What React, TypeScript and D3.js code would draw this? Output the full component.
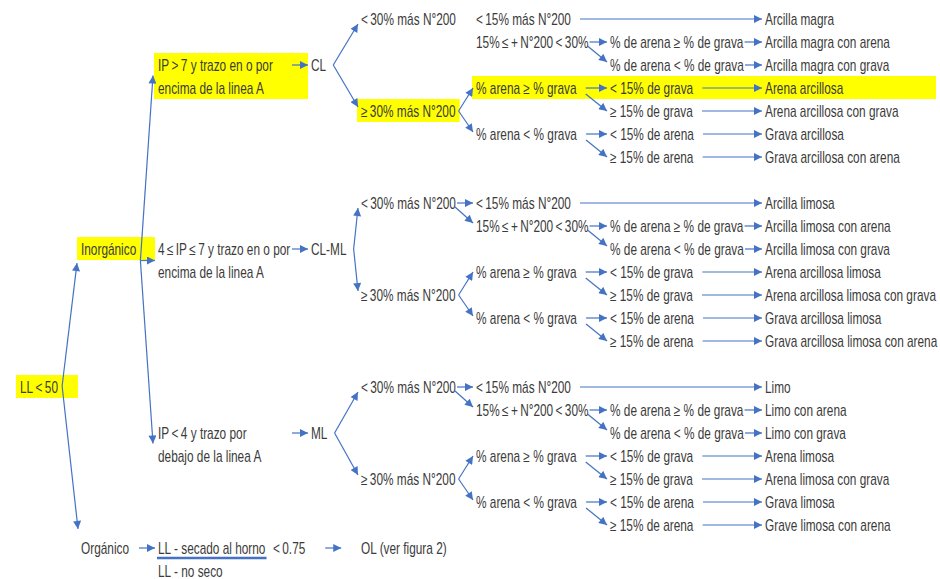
import React, { useEffect, useRef } from "react";
import * as d3 from "d3";

// soil classification flowchart (LL < 50)
// thin spaces (\u2009) around the math signs widen them like the original narrow face
const groupNames = ["CL", "CL-ML", "ML"];
const plasticity = [
  ["IP\u2009>\u20097 y trazo en o por", "encima de la linea A"],
  ["4\u2009≤\u2009IP\u2009≤\u20097 y trazo en o por", "encima de la linea A"],
  ["IP\u2009<\u20094 y trazo por", "debajo de la linea A"],
];
const fines = ["<\u200930% más N°200", "≥\u200930% más N°200"];
const finesSub = ["<\u200915% más N°200", "15%\u2009≤\u2009+\u2009N°200\u2009<\u200930%"];
const sandVsGravel = ["% de arena ≥ % de grava", "% de arena < % de grava"];
const coarse = ["% arena ≥ % grava", "% arena < % grava"];
const coarseSub = ["< 15% de grava", "≥ 15% de grava", "< 15% de arena", "≥ 15% de arena"];
const resultsCL = ["Arcilla magra", "Arcilla magra con arena", "Arcilla magra con grava", "Arena arcillosa", "Arena arcillosa con grava", "Grava arcillosa", "Grava arcillosa con arena"];
const resultsCLML = ["Arcilla limosa", "Arcilla limosa con arena", "Arcilla limosa con grava", "Arena arcillosa limosa", "Arena arcillosa limosa con grava", "Grava arcillosa limosa", "Grava arcillosa limosa con arena"];
const resultsML = ["Limo", "Limo con arena", "Limo con grava", "Arena limosa", "Arena limosa con grava", "Grava limosa", "Grave limosa con arena"];
const groupResults = [resultsCL, resultsCLML, resultsML];
const groupStartRow = [0, 8, 16];

type FNode = { id: string; lines: string[]; col: string; row: number };
type FEdge = { from: string; to: string; kind: string; tip?: string };

const nodes: FNode[] = [
  { id: "root", lines: ["LL\u2009<\u200950"], col: "a", row: 16 },
  { id: "inorg", lines: ["Inorgánico"], col: "b", row: 10 },
  { id: "org", lines: ["Orgánico"], col: "b", row: 23 },
  { id: "llsec", lines: ["LL - secado al horno"], col: "c", row: 23 },
  { id: "llno", lines: ["LL - no seco"], col: "c", row: 24 },
  { id: "ratio", lines: ["<\u20090.75"], col: "c2", row: 23 },
  { id: "ol", lines: ["OL (ver figura 2)"], col: "e", row: 23 },
];
const edges: FEdge[] = [
  { from: "root", to: "inorg", kind: "trunk", tip: "bottom" },
  { from: "root", to: "org", kind: "trunk", tip: "top" },
  { from: "inorg", to: "ip0", kind: "trunk", tip: "left" },
  { from: "inorg", to: "ip1", kind: "trunkH" },
  { from: "inorg", to: "ip2", kind: "trunk", tip: "left" },
  { from: "org", to: "llsec", kind: "short" },
  { from: "ratio", to: "ol", kind: "mid" },
];

groupNames.forEach((name, g) => {
  const b = groupStartRow[g];
  nodes.push({ id: `ip${g}`, lines: plasticity[g], col: "c", row: b + 2 });
  nodes.push({ id: `grp${g}`, lines: [name], col: "d", row: b + 2 });
  fines.forEach((t, i) => nodes.push({ id: `f${i}_${g}`, lines: [t], col: "e", row: b + i * 4 }));
  finesSub.forEach((t, i) => nodes.push({ id: `s${i}_${g}`, lines: [t], col: "f", row: b + i }));
  sandVsGravel.forEach((t, i) => nodes.push({ id: `sv${i}_${g}`, lines: [t], col: "g", row: b + 1 + i }));
  coarse.forEach((t, i) => nodes.push({ id: `co${i}_${g}`, lines: [t], col: "f", row: b + 3 + i * 2 }));
  coarseSub.forEach((t, i) => nodes.push({ id: `cs${i}_${g}`, lines: [t], col: "g", row: b + 3 + i }));
  groupResults[g].forEach((t, i) => nodes.push({ id: `r${i}_${g}`, lines: [t], col: "h", row: b + i }));

  edges.push({ from: `ip${g}`, to: `grp${g}`, kind: "short" });
  edges.push({ from: `grp${g}`, to: `f0_${g}`, kind: "fork" });
  edges.push({ from: `grp${g}`, to: `f1_${g}`, kind: "fork" });
  if (g > 0) {
    edges.push({ from: `f0_${g}`, to: `s0_${g}`, kind: "ht" });
    edges.push({ from: `f0_${g}`, to: `s1_${g}`, kind: "dt" });
  }
  edges.push({ from: `f1_${g}`, to: `co0_${g}`, kind: "bracket" });
  edges.push({ from: `f1_${g}`, to: `co1_${g}`, kind: "bracket" });
  edges.push({ from: `s0_${g}`, to: `r0_${g}`, kind: "h" });
  edges.push({ from: `s1_${g}`, to: `sv0_${g}`, kind: "ht" });
  edges.push({ from: `s1_${g}`, to: `sv1_${g}`, kind: "dt" });
  edges.push({ from: `sv0_${g}`, to: `r1_${g}`, kind: "ht" });
  edges.push({ from: `sv1_${g}`, to: `r2_${g}`, kind: "ht" });
  edges.push({ from: `co0_${g}`, to: `cs0_${g}`, kind: "h" });
  edges.push({ from: `co0_${g}`, to: `cs1_${g}`, kind: "d" });
  edges.push({ from: `co1_${g}`, to: `cs2_${g}`, kind: "h" });
  edges.push({ from: `co1_${g}`, to: `cs3_${g}`, kind: "d" });
  [0, 1, 2, 3].forEach((i) => edges.push({ from: `cs${i}_${g}`, to: `r${i + 3}_${g}`, kind: "h" }));
});

const highlights = [
  { id: "root", until: "b" },
  { id: "inorg", until: "c" },
  { id: "ip0", until: "d" },
  { id: "f1_0", pad: 4 },
  { id: "co0_0", until: "end" },
];

const App = () => {
  const svgRef = useRef<SVGSVGElement>(null);

  useEffect(() => {
    if (!svgRef.current) return;
    const width = 940;
    const height = 579;
    const blue = "#4472C4";
    const squeeze = 0.74; // narrow face look

    const colKeys = ["a", "b", "c", "c2", "d", "e", "f", "g", "h", "end"];
    const x = d3
      .scaleOrdinal<string, number>()
      .domain(colKeys)
      .range([20, 81, 158, 273, 311, 361, 476, 610, 765, 939]);
    const y = d3.scaleLinear().domain([0, 24]).range([19, 571]);

    const svg = d3.select(svgRef.current);
    svg.selectAll("*").remove();
    svg.attr("width", width).attr("height", height);

    svg
      .append("defs")
      .append("marker")
      .attr("id", "arr")
      .attr("viewBox", "0 0 10 10")
      .attr("refX", 10)
      .attr("refY", 5)
      .attr("markerWidth", 9)
      .attr("markerHeight", 8)
      .attr("markerUnits", "userSpaceOnUse")
      .attr("orient", "auto")
      .append("path")
      .attr("d", "M0,0L10,5L0,10z")
      .attr("fill", blue);

    const hlLayer = svg.append("g");
    const edgeLayer = svg.append("g");
    const textLayer = svg
      .append("g")
      .style("font-family", "'Liberation Sans', Arial, sans-serif")
      .style("font-size", "16px")
      .attr("fill", "#3b3b3b");

    // text + measured boxes
    const box: Record<string, { left: number; right: number; top: number; bottom: number; cy: number; row: number }> = {};
    nodes.forEach((n) => {
      let right = -Infinity;
      let top = Infinity;
      let bottom = -Infinity;
      n.lines.forEach((line, i) => {
        const ty = y(n.row + i);
        const t = textLayer
          .append("text")
          .attr("transform", `translate(${x(n.col)},${ty}) scale(${squeeze},1)`)
          .attr("dominant-baseline", "central")
          .text(line);
        const bb = (t.node() as SVGTextElement).getBBox();
        right = Math.max(right, x(n.col) + (bb.x + bb.width) * squeeze);
        top = Math.min(top, ty + bb.y);
        bottom = Math.max(bottom, ty + bb.y + bb.height);
      });
      box[n.id] = {
        left: x(n.col),
        right,
        top,
        bottom,
        cy: (y(n.row) + y(n.row + n.lines.length - 1)) / 2,
        row: y(n.row),
      };
    });

    // highlight rects
    highlights.forEach((h) => {
      const n = nodes.find((d) => d.id === h.id)!;
      const b = box[h.id];
      const x0 = x(n.col) - 4;
      const x1 = h.until ? x(h.until) - 3 : b.right + (h.pad ?? 4);
      const y0 = y(n.row) - 12;
      const y1 = y(n.row + n.lines.length - 1) + 11;
      hlLayer.append("rect").attr("x", x0).attr("y", y0).attr("width", x1 - x0).attr("height", y1 - y0).attr("fill", "#FFFF00");
    });

    // vertex of the trunk for a source
    const vertex = (src: string) => {
      const b = box[src];
      const hEdge = edges.find((e) => e.from === src && e.kind === "trunkH");
      return [b.right + 4, hEdge ? box[hEdge.to].cy : b.cy - 1];
    };

    const line = d3.line();
    edges.forEach((e) => {
      const s = box[e.from];
      const t = box[e.to];
      let pts: [number, number][] = [];
      const up = t.cy < s.cy;
      switch (e.kind) {
        case "h":
          pts = [[s.right + 9, t.row], [t.left - 3, t.row]];
          break;
        case "ht":
          pts = [[s.right + 1, t.row], [t.left - 3, t.row]];
          break;
        case "d":
          pts = [[s.right + 9, s.row + 6], [t.left - 3, t.row]];
          break;
        case "dt":
          pts = [[s.right - 1, s.row + 4], [t.left - 3, t.row - 3]];
          break;
        case "short":
          pts = [[t.left - 19, t.row], [t.left - 3, t.row]];
          break;
        case "mid": {
          const c = (s.right + t.left) / 2;
          pts = [[c - 8, t.row], [c + 8, t.row]];
          break;
        }
        case "fork":
          pts = [[s.right + 7, s.cy], [t.left - 3, t.row + (up ? 5 : -4)]];
          break;
        case "bracket":
          pts = [[s.right + 3, s.cy], [t.left - 3, t.row + (up ? 0 : -2)]];
          break;
        case "trunkH": {
          const v = vertex(e.from);
          pts = [[v[0], v[1]], [t.left - 3, v[1]]];
          break;
        }
        case "trunk": {
          const v = vertex(e.from);
          const tip: [number, number] =
            e.tip === "bottom" ? [t.left - 4, t.bottom + 5] : e.tip === "top" ? [t.left - 3, t.top - 10] : [t.left - 5, t.cy - 1];
          pts = [[v[0], v[1]], tip];
          break;
        }
      }
      edgeLayer
        .append("path")
        .attr("d", line(pts))
        .attr("fill", "none")
        .attr("stroke", blue)
        .attr("stroke-width", 1.2)
        .attr("marker-end", "url(#arr)");
    });

    // ratio bar under "LL - secado al horno"
    const sec = box["llsec"];
    edgeLayer
      .append("line")
      .attr("x1", sec.left - 1)
      .attr("x2", sec.right + 1)
      .attr("y1", sec.row + 10)
      .attr("y2", sec.row + 10)
      .attr("stroke", blue)
      .attr("stroke-width", 2.5);
  }, []);

  return (
    <svg
      ref={svgRef}
      style={{ position: "absolute", left: 0, top: 0, background: "#ffffff" }}
    ></svg>
  );
};

export default App;
